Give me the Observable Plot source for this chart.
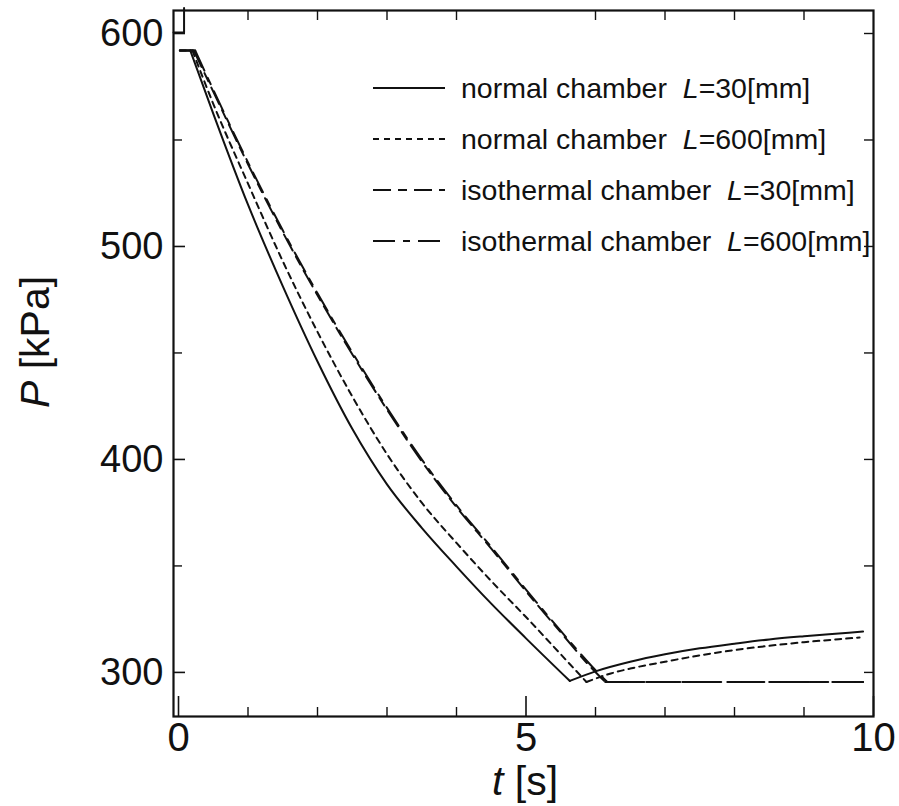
<!DOCTYPE html>
<html>
<head>
<meta charset="utf-8">
<script src="https://cdn.jsdelivr.net/npm/d3@7"></script>
<script src="https://cdn.jsdelivr.net/npm/@observablehq/plot@0.6"></script>
<style>
  html, body { margin: 0; padding: 0; background: #fff; }
  #chart svg { display: block; }
</style>
</head>
<body>
<div id="chart"></div>
<script>
// ---- data ----
// Each curve: start plateau, falling branch, then rising / flat branch.
// normal chamber, L = 30 mm (solid)
const tNormal30 = [0.02, 0.17, 0.17, 0.5, 1.0, 1.5, 2.0, 2.5, 3.0, 3.5, 4.0, 4.5, 5.0, 5.63, 5.63, 6.0, 6.5, 7.0, 7.5, 8.0, 8.5, 9.0, 9.5, 9.85];
const pNormal30 = [592, 592, 592, 562.4, 519.6, 481.4, 446, 414.4, 388.3, 367.9, 349.7, 332.3, 316, 296, 296, 300.5, 305, 308.5, 311.3, 313.5, 315.5, 317, 318.3, 319.2];
const sNormal30 = [0, 0, 1, 1, 1, 1, 1, 1, 1, 1, 1, 1, 1, 1, 2, 2, 2, 2, 2, 2, 2, 2, 2, 2];
// normal chamber, L = 600 mm (short dashes)
const tNormal600 = [0.02, 0.2, 0.2, 0.5, 1.0, 1.5, 2.0, 2.5, 3.0, 3.5, 4.0, 4.5, 5.0, 5.5, 5.87, 5.87, 6.22, 6.5, 7.0, 7.5, 8.0, 8.5, 9.0, 9.5, 9.8];
const pNormal600 = [592, 592, 592, 567, 529.5, 493.1, 459.9, 429.6, 402.5, 379.7, 360.8, 342.9, 326, 308.5, 295.5, 295.5, 299.5, 301.8, 305, 308, 310.5, 312.5, 314.2, 315.6, 316.4];
const sNormal600 = [0, 0, 1, 1, 1, 1, 1, 1, 1, 1, 1, 1, 1, 1, 1, 2, 2, 2, 2, 2, 2, 2, 2, 2, 2];
// isothermal chamber, L = 30 mm
const tIso30 = [0.02, 0.22, 0.22, 0.5, 1.0, 1.5, 2.0, 2.5, 3.0, 3.5, 4.0, 4.5, 5.0, 5.5, 5.93, 6.14, 6.14, 7.0, 8.0, 9.0, 9.85];
const pIso30 = [592, 592, 592, 572.7, 538.6, 506.7, 477.1, 449.4, 423.4, 399.1, 377.6, 358.1, 338.1, 318.8, 302.5, 295.5, 295.5, 295.5, 295.5, 295.5, 295.5];
const sIso30 = [0, 0, 1, 1, 1, 1, 1, 1, 1, 1, 1, 1, 1, 1, 1, 1, 2, 2, 2, 2, 2];
// isothermal chamber, L = 600 mm
const tIso600 = [0.02, 0.24, 0.24, 0.5, 1.0, 1.5, 2.0, 2.5, 3.0, 3.5, 4.0, 4.5, 5.0, 5.5, 5.95, 6.17, 6.17, 7.0, 8.0, 9.0, 9.85];
const pIso600 = [592, 592, 592, 573.6, 539.5, 507.6, 478, 450.3, 424.2, 400, 378.4, 358.9, 338.9, 319.5, 302.8, 295.5, 295.5, 295.5, 295.5, 295.5, 295.5];
const sIso600 = [0, 0, 1, 1, 1, 1, 1, 1, 1, 1, 1, 1, 1, 1, 1, 1, 2, 2, 2, 2, 2];
// small step drawn at the top-left corner of the original
const tStep = [-0.072, 0.08, 0.08];
const pStep = [600.5, 600.5, 612];

const seriesNames = ["normal chamber", "normal chamber", "isothermal chamber", "isothermal chamber"];
const seriesL = ["30", "600", "30", "600"];
const seriesDash = ["none", "6,5", "18,7,9,7", "22,8,7,8"];

const yMajor = [300, 400, 500, 600];
const yMinor = [350, 450, 550];
const xMajor = [0, 5, 10];
const xMinor = [1, 2, 3, 4, 6, 7, 8, 9];

function rows(ts, ps, ss, k) { return ts.map((t, i) => ({t, p: ps[i], seg: k * 10 + (ss ? ss[i] : 0)})); }
const curves = [
  rows(tNormal30, pNormal30, sNormal30, 0),
  rows(tNormal600, pNormal600, sNormal600, 1),
  rows(tIso30, pIso30, sIso30, 2),
  rows(tIso600, pIso600, sIso600, 3)
];

const FONT = "'Liberation Sans', Arial, Helvetica, sans-serif";

const chart = Plot.plot({
  width: 899,
  height: 806,
  marginLeft: 173,
  marginRight: 26,
  marginTop: 10,
  marginBottom: 90,
  style: {fontFamily: FONT, color: "#111", background: "#fff"},
  x: {domain: [-0.072, 10.0], label: null},
  y: {domain: [279.3, 610.8], label: null},
  marks: [
    Plot.axisY({anchor: "left", ticks: yMajor, tickSize: -12, tickPadding: 22, tickFormat: d => String(d), fontSize: 38, strokeWidth: 1.6, label: null}),
    Plot.axisY({anchor: "left", ticks: yMinor, tickSize: -9, tickFormat: () => "", strokeWidth: 1.4, label: null}),
    Plot.axisY({anchor: "right", ticks: yMajor.concat(yMinor), tickSize: -10, tickFormat: () => "", strokeWidth: 1.4, label: null}),
    Plot.axisX({anchor: "top", ticks: xMinor, tickSize: -9, tickFormat: () => "", strokeWidth: 1.4, label: null}),
    Plot.axisX({anchor: "bottom", ticks: xMajor, tickSize: -20, tickPadding: 26, tickFormat: d => String(d), fontSize: 40, strokeWidth: 1.6, label: null}),
    Plot.axisX({anchor: "bottom", ticks: xMinor, tickSize: -9, tickFormat: () => "", strokeWidth: 1.4, label: null}),
    Plot.frame({stroke: "#111", strokeWidth: 2.2}),
    Plot.line(rows(tStep, pStep, null, 9), {x: "t", y: "p", stroke: "#111", strokeWidth: 2}),
    ...curves.map((d, i) => Plot.line(d, {
      x: "t", y: "p", z: "seg", curve: "monotone-x",
      stroke: "#111", strokeWidth: 2,
      strokeDasharray: seriesDash[i] === "none" ? null : seriesDash[i]
    }))
  ]
});

document.getElementById("chart").appendChild(chart);

// axis titles with italic symbols, and the legend
const svg = d3.select(chart);
const ytitle = svg.append("text")
  .attr("transform", "translate(49,342) rotate(-90)")
  .attr("text-anchor", "middle")
  .attr("font-family", FONT)
  .attr("font-size", 41)
  .attr("fill", "#111");
ytitle.append("tspan").attr("font-style", "italic").text("P");
ytitle.append("tspan").text(" [kPa]");

const xtitle = svg.append("text")
  .attr("x", 525).attr("y", 795)
  .attr("text-anchor", "middle")
  .attr("font-family", FONT)
  .attr("font-size", 41)
  .attr("fill", "#111");
xtitle.append("tspan").attr("font-style", "italic").text("t");
xtitle.append("tspan").text(" [s]");

const legendRowsY = [88, 139, 190, 241];
const lg = svg.append("g")
  .attr("font-family", FONT).attr("font-size", 28.5).attr("fill", "#111")
  .attr("text-anchor", "start");
seriesNames.forEach((name, i) => {
  const y = legendRowsY[i];
  lg.append("line")
    .attr("x1", 373).attr("x2", 445).attr("y1", y).attr("y2", y)
    .attr("stroke", "#111").attr("stroke-width", 2)
    .attr("stroke-dasharray", seriesDash[i] === "none" ? null : seriesDash[i]);
  const tx = lg.append("text").attr("x", 461).attr("y", y).attr("dy", "0.35em").attr("text-anchor", "start");
  tx.append("tspan").text(name + "\u00a0\u00a0");
  tx.append("tspan").attr("font-style", "italic").text("L");
  tx.append("tspan").text("=" + seriesL[i] + "[mm]");
});
</script>
</body>
</html>
